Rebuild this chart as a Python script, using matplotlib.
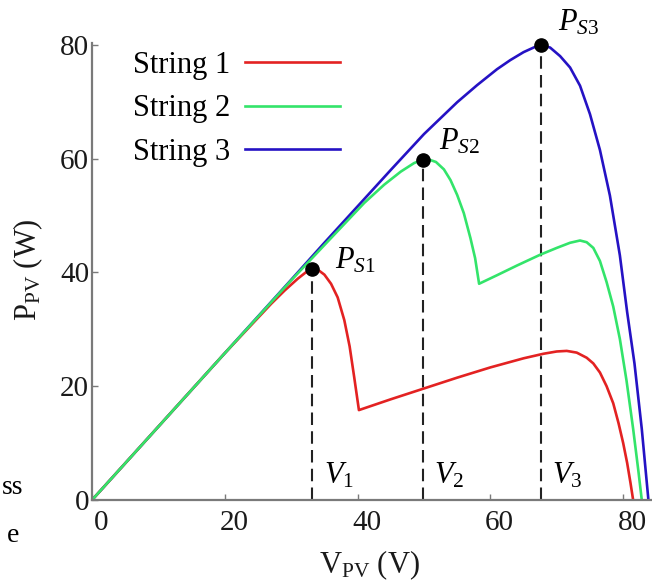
import matplotlib
matplotlib.use('Agg')
import matplotlib.pyplot as plt
from matplotlib.transforms import ScaledTranslation

plt.rcParams['font.family'] = ['Liberation Serif', 'DejaVu Serif']
plt.rcParams['mathtext.fontset'] = 'custom'
plt.rcParams['mathtext.rm'] = 'Liberation Serif'
plt.rcParams['mathtext.it'] = 'Liberation Serif:italic'

# P-V curves of the three strings (V in volts, P in watts)
v_s1 = [0, 10, 20, 27, 29, 31, 32.2, 33.2, 34.2, 35, 36, 37, 38, 38.8, 39.5,
        40.2, 45, 50, 55, 60, 65, 68, 70, 71.5, 73, 74.5, 75.5, 76.5, 77.5,
        78.5, 79.3, 80, 80.6, 81.1, 81.5]
p_s1 = [0, 12.9, 25.8, 34.5, 36.8, 38.9, 40.0, 40.6, 40.3, 39.6, 38.0, 35.6,
        31.6, 27.0, 21.5, 15.8, 17.7, 19.6, 21.5, 23.3, 24.9, 25.7, 26.1, 26.2,
        25.9, 25.0, 24.0, 22.4, 20.0, 17.0, 13.5, 10.0, 6.5, 3.0, 0]

v_s2 = [0, 10, 20, 30, 35, 38, 41, 44, 46.5, 48.5, 49.8, 50.8, 51.8, 53, 54,
        55, 56, 57, 57.7, 58.3, 61, 64, 67.5, 70, 72, 73.5, 74.5, 75.5, 76.5,
        77.5, 78.5, 79.5, 80.5, 81.5, 82.3, 82.8]
p_s2 = [0, 12.9, 25.8, 38.6, 44.8, 48.5, 52.2, 55.4, 57.7, 59.2, 59.8, 59.8,
        59.4, 58.1, 56.2, 53.6, 50.4, 46.0, 42.5, 38.0, 39.5, 41.2, 43.1, 44.3,
        45.2, 45.6, 45.3, 44.3, 42.0, 38.3, 34.0, 28.3, 21.0, 12.5, 5.0, 0]

v_s3 = [0, 10, 20, 30, 35, 40, 45, 50, 55, 58, 61, 63, 65, 66.5, 67.6, 69,
        70.5, 72, 73.5, 75, 76.5, 78, 79.5, 80.6, 81.7, 82.8, 83.8]
p_s3 = [0, 12.9, 25.8, 38.7, 45.2, 51.6, 58.0, 64.3, 69.9, 72.9, 75.7, 77.3,
        78.7, 79.5, 80.0, 79.5, 78.0, 76.0, 72.8, 67.8, 61.5, 53.5, 43.0, 33.0,
        24.0, 12.5, 0]

# maximum power points of each string
mpp_v = [33.2, 49.8, 67.6]
mpp_p = [40.6, 59.8, 80.0]
mpp_labels = [r'$P_{\mathit{S1}}$', r'$P_{\mathit{S2}}$', r'$P_{\mathit{S3}}$']
mpp_offsets = [(16, 0), (12, 7), (12, 10)]
v_labels = [r'$V_{\mathit{1}}$', r'$V_{\mathit{2}}$', r'$V_{\mathit{3}}$']

fig = plt.figure(figsize=(6.52, 5.87), dpi=100)
ax = fig.add_axes([0.1411, 0.1482, 0.8589, 0.7785])

# string 2 drawn last so it sits on top of the shared rising branch
l3, = ax.plot(v_s3, p_s3, color='#2512c4', lw=1.9, label='String 3')
l1, = ax.plot(v_s1, p_s1, color='#e32222', lw=1.9, label='String 1')
l2, = ax.plot(v_s2, p_s2, color='#33e46a', lw=1.9, label='String 2')

for v, p, lab, off, vl in zip(mpp_v, mpp_p, mpp_labels, mpp_offsets, v_labels):
    ax.plot([v, v], [0, p], color='#222222', lw=1.5, ls=(0, (6, 3)), zorder=1)
    ax.plot(v, p, 'o', color='black', ms=9.5, zorder=4, clip_on=False)
    ax.annotate(lab, (v, p), xytext=off, textcoords='offset points',
                fontsize=22, va='baseline', ha='left', annotation_clip=False)
    ax.annotate(vl, (v, 0), xytext=(8, 12), textcoords='offset points',
                fontsize=22, va='baseline', ha='left')

ax.set_xlim(0, 84.34)
ax.set_ylim(0, 80.3)
ax.set_xticks([0, 20, 40, 60, 80])
ax.set_yticks([0, 20, 40, 60, 80])

for side in ['top', 'right']:
    ax.spines[side].set_visible(False)
for side in ['left', 'bottom']:
    ax.spines[side].set_color('#7a7a7a')
    ax.spines[side].set_linewidth(1.6)

ax.tick_params(direction='in', length=4, width=1, colors='#7a7a7a',
               labelcolor='#1a1a1a', labelsize=21)
ax.tick_params(axis='x', pad=7)
ax.tick_params(axis='y', pad=2)
shift = ScaledTranslation(0.09, 0, fig.dpi_scale_trans)
for lbl in ax.get_xticklabels():
    lbl.set_transform(lbl.get_transform() + shift)

ax.set_xlabel(r'$\mathrm{V_{PV}}$ (V)', fontsize=22, color='#1a1a1a')
ax.set_ylabel(r'$\mathrm{P_{PV}}$ (W)', fontsize=22, color='#1a1a1a')
ax.xaxis.set_label_coords(0.496, -0.105)
ax.yaxis.set_label_coords(-0.084, 0.503)

ax.legend([l1, l2, l3], ['String 1', 'String 2', 'String 3'],
          loc='upper left', bbox_to_anchor=(0.073, 0.983), frameon=False,
          markerfirst=False, handlelength=3.1, handletextpad=0.5,
          labelspacing=0.48, borderpad=0, borderaxespad=0, fontsize=22)

# fragments of the neighbouring panel at the left edge
fig.text(23 / 652, 1 - 488 / 587, 'ss', ha='right', va='center', fontsize=20)
fig.text(19 / 652, 1 - 536 / 587, 'e', ha='right', va='center', fontsize=20)

fig.savefig('out.png', dpi=100)
